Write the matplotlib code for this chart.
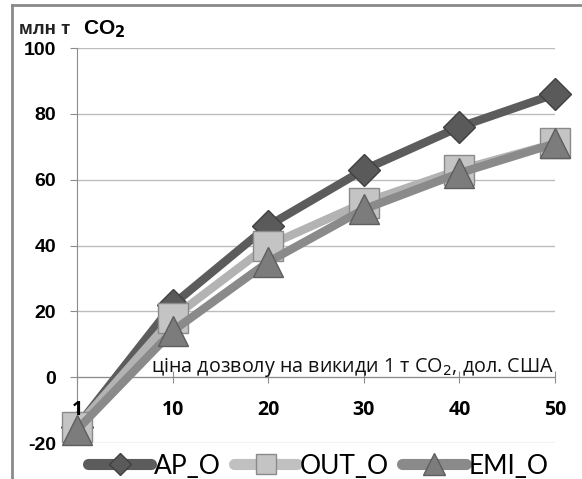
import matplotlib
matplotlib.use("Agg")
import matplotlib.pyplot as plt
from matplotlib.lines import Line2D

# price of permit, USD per t CO2 (category axis)
prices = ["1", "10", "20", "30", "40", "50"]

# mln t CO2
ap_o = [-15, 22, 46, 63, 76, 86]
out_o = [-15, 18, 40, 53, 63, 71]
emi_o = [-16, 14, 35, 51, 62, 71]

y_ticks = [-20, 0, 20, 40, 60, 80, 100]

fig = plt.figure(figsize=(5.82, 4.79), dpi=100)
ax = fig.add_axes([77 / 582, 1 - 443 / 479, (555 - 77) / 582, (443 - 48) / 479])

# x axis crosses at zero (must be set before tick labels, it resets ticks)
ax.spines["bottom"].set_position(("data", 0))

xs = list(range(len(prices)))

ax.plot(xs, ap_o, color="#5c5c5c", lw=6, marker="D", ms=16,
        mfc="#5a5a5a", mec="#404040", mew=1, zorder=3, clip_on=False)
ax.plot(xs, out_o, color="#b3b3b3", lw=6, marker="s", ms=21,
        mfc="#c4c4c4", mec="#8a8a8a", mew=1, zorder=4, clip_on=False)
ax.plot(xs, emi_o, color="#8a8a8a", lw=6, marker="^", ms=22,
        mfc="#7c7c7c", mec="#5e5e5e", mew=1, zorder=5, clip_on=False)

ax.set_xlim(0, len(prices) - 1)
ax.set_ylim(-20, 100)
ax.set_xticks(xs)
ax.set_xticklabels(prices, fontfamily="Open Sans", fontweight="bold", fontsize=14)
ax.set_yticks(y_ticks)
ax.set_yticklabels([str(v) for v in y_ticks], fontfamily="Liberation Sans",
                   fontweight="bold", fontsize=14)

ax.grid(axis="y", color="#bdbdbd", lw=1)
ax.yaxis.set_zorder(0.5)
ax.xaxis.set_zorder(6)
for s in ["top", "right"]:
    ax.spines[s].set_visible(False)
ax.spines["left"].set_color("#8c8c8c")
ax.spines["left"].set_zorder(0.6)
ax.spines["bottom"].set_color("#8c8c8c")
ax.spines["bottom"].set_zorder(0.6)
ax.tick_params(axis="x", direction="inout", length=9, color="#8c8c8c", pad=12)
ax.tick_params(axis="y", direction="out", length=5, color="#8c8c8c", pad=10)

ax.text(0.998, 0.19, "ціна дозволу на викиди 1 т CO$_2$, дол. США",
        transform=ax.transAxes, ha="right", va="center",
        fontfamily="Open Sans", fontsize=14.2, color="#111111", zorder=7)

# axis title
fig.text(19 / 582, 1 - 30 / 479, "млн т", fontfamily="Liberation Sans",
         fontweight="bold", fontsize=13.5, color="#222222", va="center")
fig.text(83 / 582, 1 - 29 / 479, r"CO$_\mathbf{2}$", fontfamily="Liberation Sans",
         fontweight="bold", fontsize=15, color="#000000", va="center")

# legend
handles = [
    Line2D([], [], color="#5c5c5c", lw=8, marker="D", ms=11, mfc="#5a5a5a", mec="#404040",
           solid_capstyle="round"),
    Line2D([], [], color="#c0c0c0", lw=8, marker="s", ms=14, mfc="#c4c4c4", mec="#8a8a8a",
           solid_capstyle="round"),
    Line2D([], [], color="#8a8a8a", lw=8, marker="^", ms=16, mfc="#7c7c7c", mec="#5e5e5e",
           solid_capstyle="round"),
]
fig.legend(handles, ["AP_O", "OUT_O", "EMI_O"], loc="center",
           bbox_to_anchor=(318 / 582, 1 - 466 / 479), ncol=3, frameon=False,
           prop={"family": "Lato", "size": 19}, handlelength=2.4,
           handletextpad=0.1, columnspacing=0.5)

# outer frame
fig.add_artist(Line2D([12 / 582, 1], [1 - 5 / 479, 1 - 5 / 479], color="#8a8a8a", lw=2,
                      transform=fig.transFigure))
fig.add_artist(Line2D([12 / 582, 12 / 582], [0, 1 - 5 / 479], color="#8a8a8a", lw=2,
                      transform=fig.transFigure))

fig.savefig("out.png", dpi=100, facecolor="white")
